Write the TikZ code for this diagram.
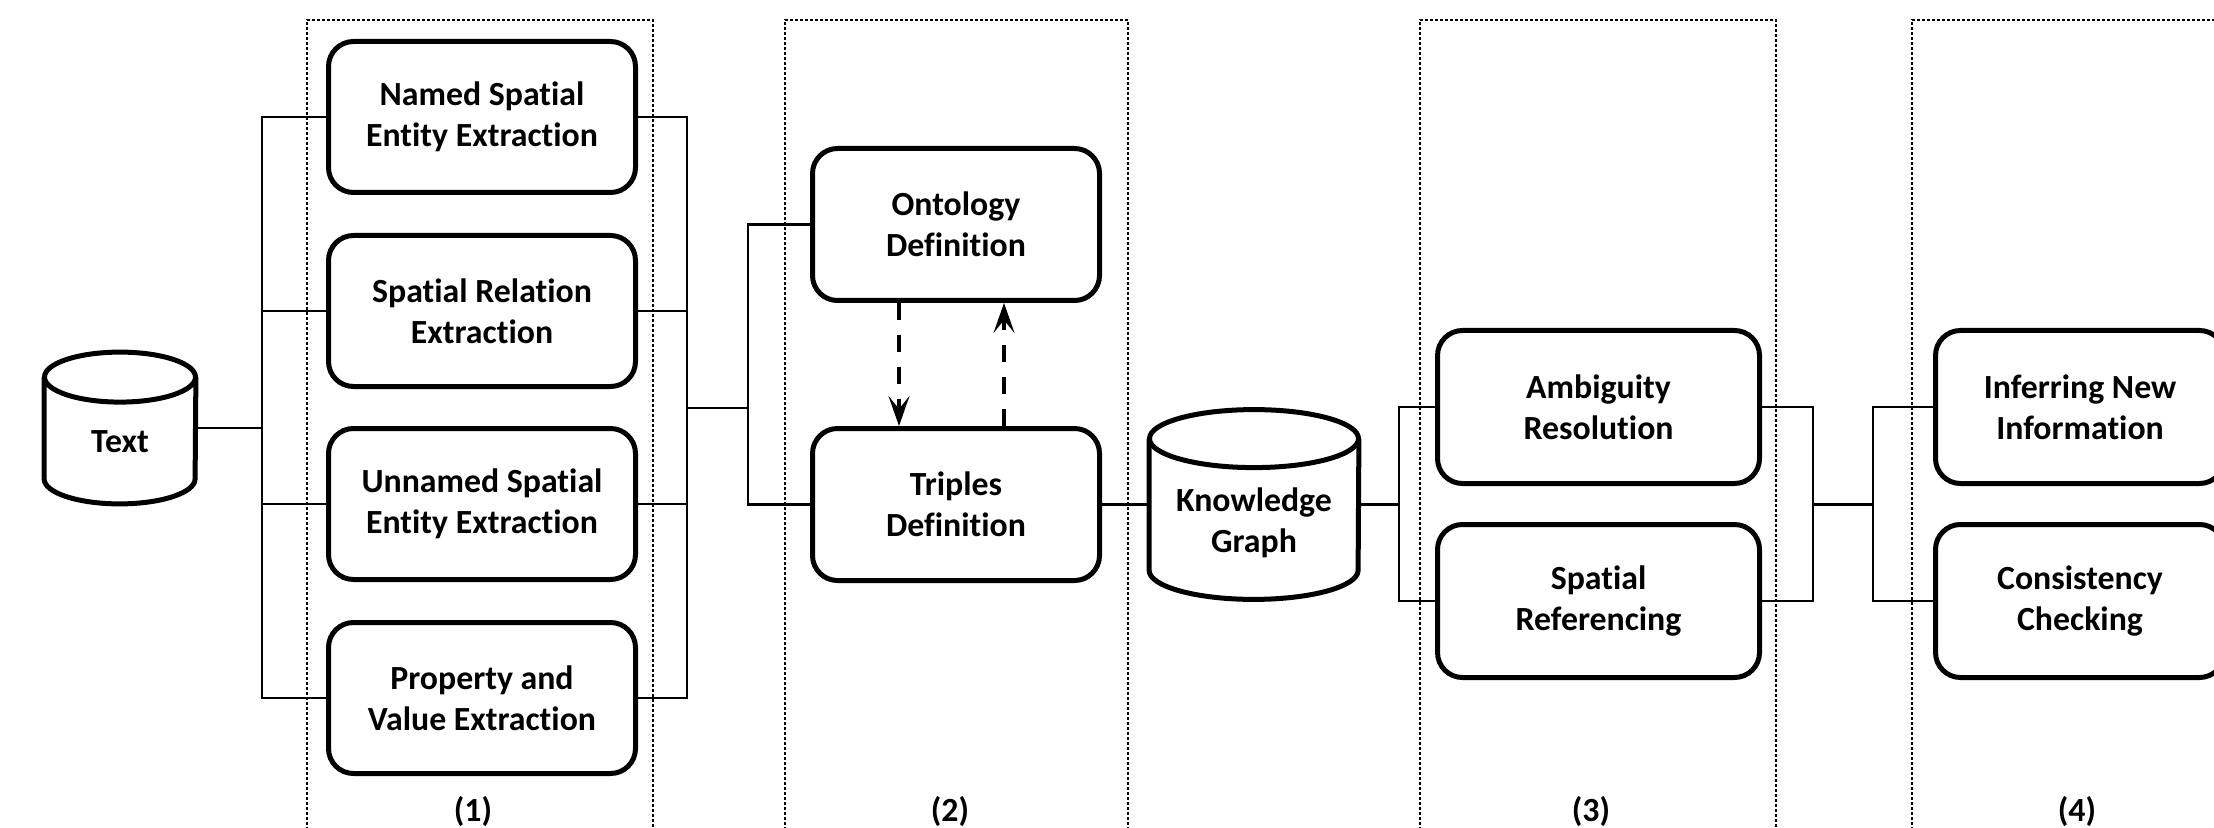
\documentclass[tikz,border=0pt]{standalone}
\usepackage{fontspec}
\setmainfont{Carlito}[Ligatures=NoCommon]
\usetikzlibrary{arrows.meta,calc}
\begin{document}
\begin{tikzpicture}[x=0.5pt,y=-0.5pt,
  txtfont/.style={font=\bfseries\fontsize{16.9}{20.5}\selectfont},
  box/.style={draw, line width=2.5pt, rounded corners=12.5pt, fill=white, align=center, txtfont, inner sep=0pt},
  colA/.style={box, minimum width=153.5pt, minimum height=75.5pt},
  colB/.style={box, minimum width=143.5pt, minimum height=76pt},
  colC/.style={box, minimum width=161pt, minimum height=76.5pt},
  colD/.style={box, minimum width=144.5pt, minimum height=76.5pt},
  cylnode/.style={inner sep=0pt, align=center, txtfont},
  cylline/.style={line width=2.5pt, line join=round},
  wire/.style={line width=1.25pt},
  frame/.style={line width=1.4pt, dash pattern=on 1.3pt off 1.2pt},
  darrow/.style={line width=1.75pt, dash pattern=on 8.5pt off 7.5pt, -{Stealth[length=15pt,width=10.5pt,inset=6.5pt]}},
  lbl/.style={txtfont, inner sep=0pt}
]
\useasboundingbox (0,0) rectangle (2214,828);
\clip (0,0) rectangle (2214,828);

% dotted stage frames
\draw[frame] (307,1000) -- (307,20) -- (653,20) -- (653,1000);
\draw[frame] (785,1000) -- (785,20) -- (1128,20) -- (1128,1000);
\draw[frame] (1420,1000) -- (1420,20) -- (1776,20) -- (1776,1000);
\draw[frame] (1912,1000) -- (1912,20) -- (2400,20);

% Text cylinder
\node[cylnode, minimum width=75.5pt, minimum height=75.5pt] (text) at (120,428) {\vbox{\vskip14pt\hbox{Text}}};
\draw[cylline] ($(text.north)+(0,25)$) ellipse [x radius=37.75pt, y radius=12.5pt];
\draw[cylline] ($(text.north west)+(0,25)$) -- ($(text.south west)+(0,-25)$)
  arc[start angle=180, end angle=360, x radius=37.75pt, y radius=12.5pt] -- ($(text.north east)+(0,25)$);

% stage 1
\node[colA] (e1) at (482,117) {Named Spatial\\Entity Extraction};
\node[colA] (e2) at (482,311) {Spatial Relation\\Extraction};
\node[colA] (e3) at (482,504) {Unnamed Spatial\\Entity Extraction};
\node[colA] (e4) at (482,698) {Property and\\Value Extraction};

% stage 2
\node[colB] (onto) at (956,224.5) {Ontology\\Definition};
\node[colB] (trip) at (956,504.5) {Triples\\Definition};

% Knowledge graph cylinder
\node[cylnode, minimum width=104.5pt, minimum height=94.5pt] (kg) at (1254,504.5)
  {\vbox{\vskip19pt\hbox{\begin{tabular}{@{}c@{}}Knowledge\\Graph\end{tabular}}}};
\draw[cylline] ($(kg.north)+(0,29)$) ellipse [x radius=52.25pt, y radius=14.5pt];
\draw[cylline] ($(kg.north west)+(0,29)$) -- ($(kg.south west)+(0,-29)$)
  arc[start angle=180, end angle=360, x radius=52.25pt, y radius=14.5pt] -- ($(kg.north east)+(0,29)$);

% stage 3
\node[colC] (amb) at (1598.5,407) {Ambiguity\\Resolution};
\node[colC] (sref) at (1598.5,601) {Spatial\\Referencing};

% stage 4
\node[colD] (inf) at (2080,407) {Inferring New\\Information};
\node[colD] (cons) at (2080,601) {Consistency\\Checking};

% stage labels
\node[lbl] (l1) at (473,812) {(1)};
\node[lbl] (l2) at (950,812) {(2)};
\node[lbl] (l3) at (1591,812) {(3)};
\node[lbl] (l4) at (2077,812) {(4)};

% bus coordinates
\coordinate (b1) at (262,428);
\coordinate (b2) at (687,408);
\coordinate (b3) at (748,408);
\coordinate (b4) at (1399,504.5);
\coordinate (b5) at (1813,504.5);
\coordinate (b6) at (1873,504.5);

% connectors
\draw[wire] (text.east) -- (b1);
\draw[wire] (e1.west) -- (e1.west -| b1) -- (e4.west -| b1) -- (e4.west);
\draw[wire] (e2.west) -- (e2.west -| b1);
\draw[wire] (e3.west) -- (e3.west -| b1);
\draw[wire] (e1.east) -- (e1.east -| b2) -- (e4.east -| b2) -- (e4.east);
\draw[wire] (e2.east) -- (e2.east -| b2);
\draw[wire] (e3.east) -- (e3.east -| b2);
\draw[wire] (b2) -- (b3);
\draw[wire] (onto.west) -- (onto.west -| b3) -- (trip.west -| b3) -- (trip.west);
\draw[wire] (trip.east) -- (trip.east -| kg.west);
\draw[wire] (kg.east) -- (b4);
\draw[wire] (amb.west) -- (amb.west -| b4) -- (sref.west -| b4) -- (sref.west);
\draw[wire] (amb.east) -- (amb.east -| b5) -- (sref.east -| b5) -- (sref.east);
\draw[wire] (b5) -- (b6);
\draw[wire] (inf.west) -- (inf.west -| b6) -- (cons.west -| b6) -- (cons.west);

% dashed arrows between ontology and triples
\draw[darrow] ([xshift=-28.5pt]onto.south) -- ([xshift=-28.5pt]trip.north);
\draw[darrow] ([xshift=24pt]trip.north) -- ([xshift=24pt]onto.south);
\end{tikzpicture}
\end{document}
